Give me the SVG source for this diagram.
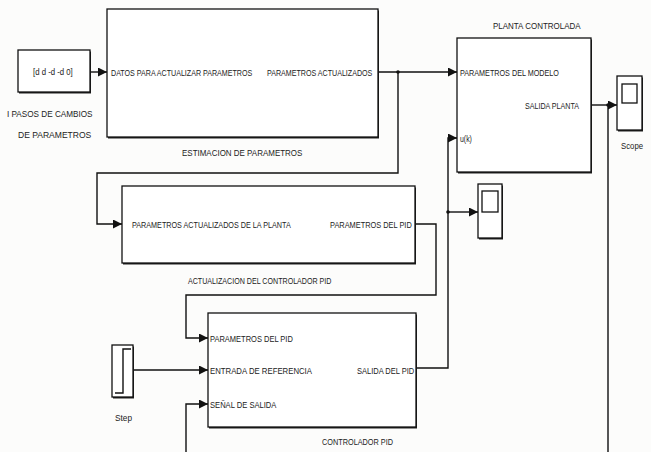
<svg xmlns="http://www.w3.org/2000/svg" width="651" height="452" viewBox="0 0 651 452">
<defs>
<marker id="arr" viewBox="0 0 10 10" refX="10" refY="5" markerWidth="9" markerHeight="9" markerUnits="userSpaceOnUse" orient="auto">
<path d="M0,0 L10,5 L0,10 z" fill="#111"/>
</marker>
<style>
.blk{fill:#fff;stroke:#111;stroke-width:1.3}
.shd{fill:#222;stroke:none}
.ln{fill:none;stroke:#111;stroke-width:1.4}
.t{font-family:"Liberation Sans",Arial,sans-serif;font-size:9.5px;fill:#222}
.dot{fill:#111}
</style>
</defs>
<rect x="0" y="0" width="651" height="452" fill="#fcfcfb"/>

<g id="connectors">
<path class="ln" d="M90,72 H107" marker-end="url(#arr)"/>
<path class="ln" d="M379,72 H457" marker-end="url(#arr)"/>
<path class="ln" d="M398,72 V173 H97 V224 H122" marker-end="url(#arr)"/>
<circle class="dot" cx="398" cy="72" r="1.8"/>
<path class="ln" d="M415,224 H436 V295 H186 V338 H208" marker-end="url(#arr)"/>
<path class="ln" d="M133,370 H208" marker-end="url(#arr)"/>
<path class="ln" d="M416,368 H448 V138 H457" marker-end="url(#arr)"/>
<path class="ln" d="M448,212 H478" marker-end="url(#arr)"/>
<circle class="dot" cx="448" cy="212" r="1.8"/>
<path class="ln" d="M592,105 H617" marker-end="url(#arr)"/>
<path class="ln" d="M608,105 V460 H186 V404 H208" marker-end="url(#arr)"/>
<circle class="dot" cx="608" cy="105" r="1.8"/>
</g>

<g id="constante">
<rect class="shd" x="19" y="51.5" width="72" height="42"/>
<rect class="blk" x="18" y="50" width="72" height="42"/>
<text class="t" transform="translate(33,75) scale(0.82,1)">[d d -d -d 0]</text>
<text class="t" transform="translate(7,116.5) scale(0.86,1)">I PASOS DE CAMBIOS</text>
<text class="t" transform="translate(18,138) scale(0.9,1)">DE PARAMETROS</text>
</g>

<g id="estimacion">
<rect class="shd" x="108" y="10.5" width="271" height="128"/>
<rect class="blk" x="107" y="9" width="271" height="128"/>
<text class="t" transform="translate(111,75.5) scale(0.75,1)">DATOS PARA  ACTUALIZAR PARAMETROS</text>
<text class="t" transform="translate(267,75.5) scale(0.75,1)">PARAMETROS ACTUALIZADOS</text>
<text class="t" transform="translate(182,155.5) scale(0.84,1)">ESTIMACION DE PARAMETROS</text>
</g>

<g id="planta">
<rect class="shd" x="458" y="39.5" width="134" height="134"/>
<rect class="blk" x="457" y="38" width="134" height="134"/>
<text class="t" transform="translate(493,28.5) scale(0.84,1)">PLANTA CONTROLADA</text>
<text class="t" transform="translate(460,75.5) scale(0.76,1)">PARAMETROS  DEL MODELO</text>
<text class="t" transform="translate(525,108.5) scale(0.75,1)">SALIDA PLANTA</text>
<text class="t" transform="translate(460,141.5) scale(0.73,1)">u(k)</text>
</g>

<g id="scope">
<rect class="shd" x="618" y="77.5" width="25" height="54"/>
<rect class="blk" x="617" y="76" width="25" height="54"/>
<rect class="blk" x="622" y="84" width="15" height="19"/>
<text class="t" transform="translate(621,149) scale(0.82,1)">Scope</text>
</g>

<g id="actualizacion">
<rect class="shd" x="123" y="187.5" width="293" height="77"/>
<rect class="blk" x="122" y="186" width="293" height="77"/>
<text class="t" transform="translate(132,227.5) scale(0.76,1)">PARAMETROS ACTUALIZADOS DE LA PLANTA</text>
<text class="t" transform="translate(330,227.5) scale(0.78,1)">PARAMETROS DEL PID</text>
<text class="t" transform="translate(188,284) scale(0.75,1)">ACTUALIZACION DEL CONTROLADOR PID</text>
</g>

<g id="scope2">
<rect class="shd" x="479" y="185.5" width="24" height="54"/>
<rect class="blk" x="478" y="184" width="24" height="54"/>
<rect class="blk" x="482" y="191" width="16" height="21"/>
</g>

<g id="step">
<rect class="shd" x="113" y="346.5" width="21" height="52"/>
<rect class="blk" x="112" y="345" width="21" height="52"/>
<path class="ln" d="M115,393 H123 V349 H131"/>
<text class="t" transform="translate(115,421) scale(0.87,1)">Step</text>
</g>

<g id="controlador">
<rect class="shd" x="209" y="314.5" width="208" height="114"/>
<rect class="blk" x="208" y="313" width="208" height="114"/>
<text class="t" transform="translate(210,341.5) scale(0.79,1)">PARAMETROS DEL PID</text>
<text class="t" transform="translate(210,373.5) scale(0.82,1)">ENTRADA DE REFERENCIA</text>
<text class="t" transform="translate(210,407.5) scale(0.8,1)">SEÑAL DE SALIDA</text>
<text class="t" transform="translate(357,373.5) scale(0.79,1)">SALIDA DEL PID</text>
<text class="t" transform="translate(322,445) scale(0.77,1)">CONTROLADOR PID</text>
</g>
</svg>
